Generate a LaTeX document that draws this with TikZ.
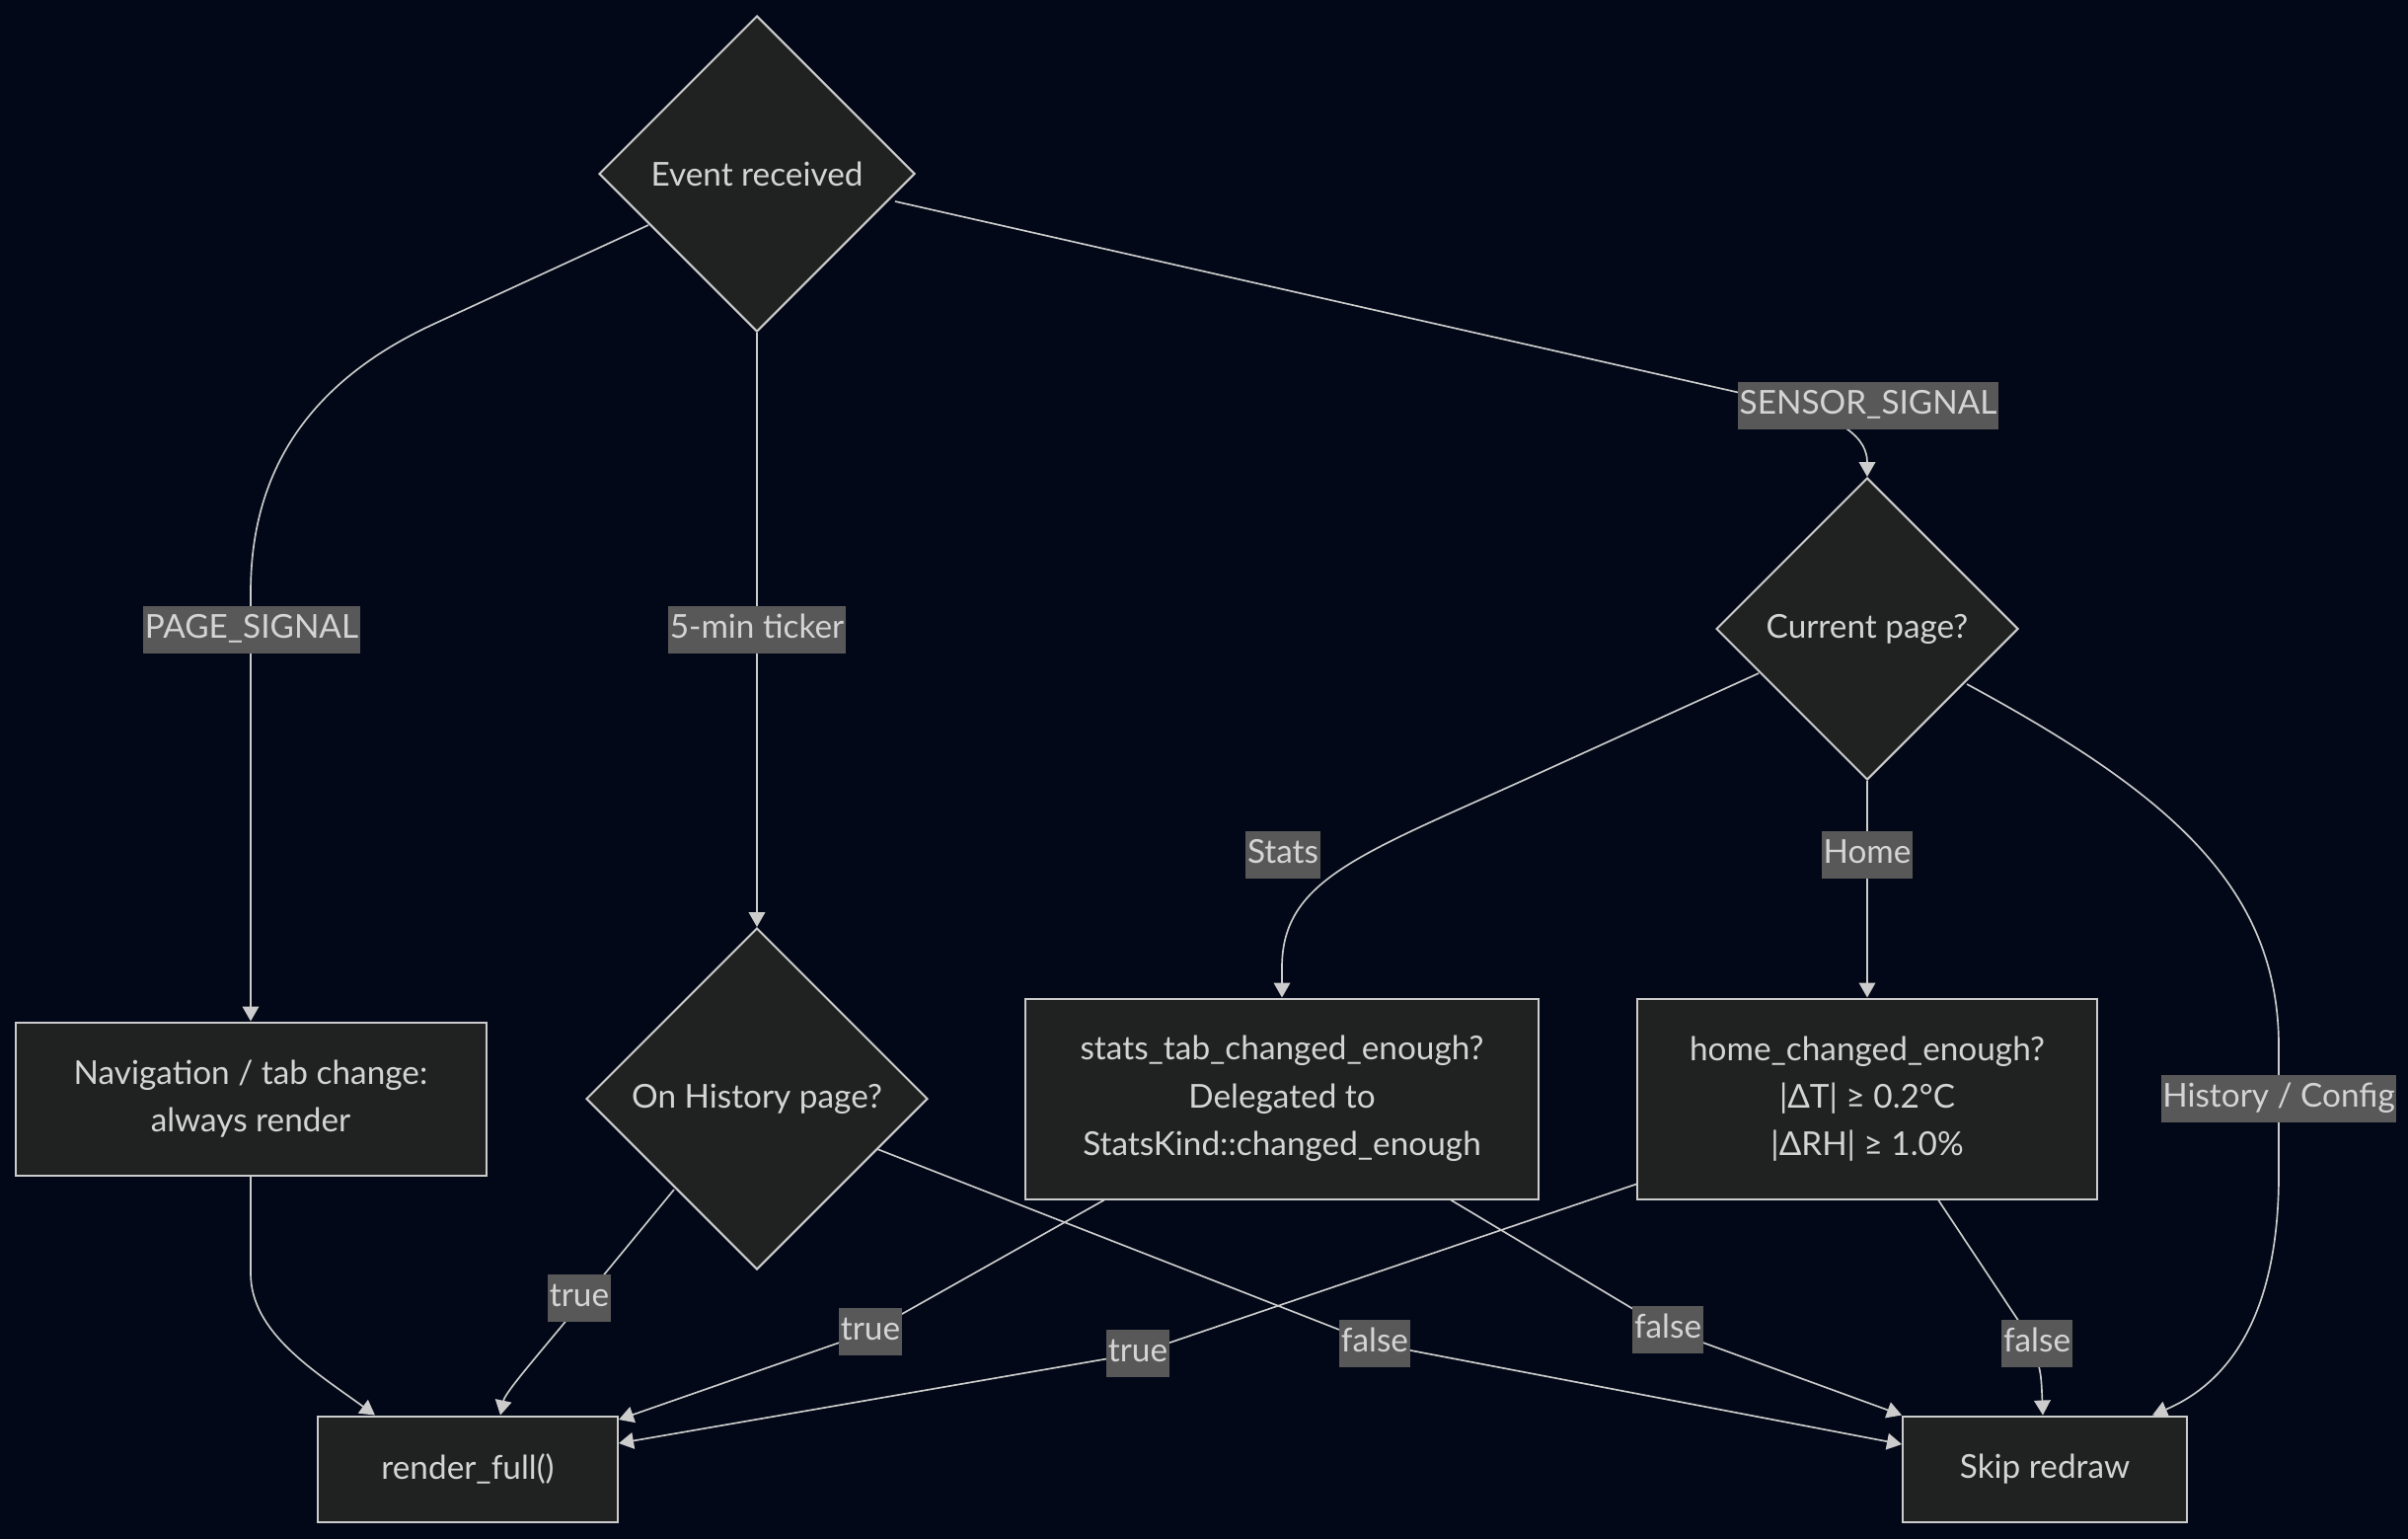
\documentclass[tikz,border=0pt]{standalone}
\usepackage{fontspec}
\setmainfont{Lato}
\usetikzlibrary{shapes.geometric,arrows.meta,calc}
\definecolor{bgc}{RGB}{2,8,23}
\definecolor{nodefill}{RGB}{32,33,33}
\definecolor{strokec}{RGB}{204,204,204}
\definecolor{lblbg}{RGB}{88,88,88}
\definecolor{txtc}{RGB}{212,212,212}
\begin{document}
\begin{tikzpicture}[x=0.3pt,y=-0.3pt,
  box/.style={draw=strokec,fill=nodefill,line width=0.6pt,inner sep=0pt,text=txtc,
    font=\fontsize{10}{14.5}\selectfont,align=center},
  dec/.style={diamond,aspect=1,draw=strokec,fill=nodefill,line width=0.6pt,inner sep=0pt,
    text=txtc,font=\fontsize{10}{12}\selectfont},
  lbl/.style={fill=lblbg,text=txtc,font=\fontsize{10}{12}\selectfont,inner xsep=0.5pt,
    inner ysep=2.3pt,text height=7.5pt,text depth=2.2pt},
  conn/.style={draw=strokec,line width=0.5pt,-{Triangle[length=4.5pt,width=5pt]}}]
\fill[bgc] (0,0) rectangle (2440,1559);
\useasboundingbox (0,0) rectangle (2440,1559);

% nodes
\node[dec,minimum width=96pt,minimum height=96pt] (ev) at (767,176) {Event received};
\node[dec,minimum width=91.8pt,minimum height=91.8pt] (cur) at (1892,637) {Current page?};
\node[dec,minimum width=103.8pt,minimum height=103.8pt] (hist) at (767,1113) {On History page?};
\node[box,minimum width=143.1pt,minimum height=46.5pt] (nav) at (254,1113) {Navigation / tab change:\\always render};
\node[box,minimum width=156pt,minimum height=60.9pt] (stats) at (1299,1113) {stats\_tab\_changed\_enough?\\Delegated to\\StatsKind::changed\_enough};
\node[box,minimum width=139.8pt,minimum height=60.9pt] (home) at (1892,1113) {home\_changed\_enough?\\|ΔT| ≥ 0.2°C\\|ΔRH| ≥ 1.0\%};
\node[box,minimum width=91.2pt,minimum height=32.1pt] (render) at (474,1488) {render\_full()};
\node[box,minimum width=86.4pt,minimum height=32.1pt] (skip) at (2072,1488) {Skip redraw};

% connectors
\draw[conn] ($(ev)+(-110,52)$) -- (440,328) .. controls (310,388) and (254,480) .. (254,600) -- (nav.north);
\draw[conn] (ev.south) -- (hist.north);
\draw[conn] ($(ev)+(140,28)$) -- (1790,404) .. controls (1870,422) and (1892,445) .. (cur.north);
\draw[conn] ($(cur)+(-110,45)$) -- (1560,783) .. controls (1380,865) and (1299,890) .. (1299,980) -- (stats.north);
\draw[conn] (cur.south) -- (home.north);
\draw[conn] ($(cur)+(101,56)$) .. controls (2200,805) and (2309,900) .. (2309,1060) -- (2309,1190) .. controls (2309,1330) and (2260,1400) .. ($(skip.north)+(109,0)$);
\draw[conn] (nav.south) -- (254,1290) .. controls (254,1350) and (320,1390) .. ($(render.north)+(-94,0)$);
\draw[conn] ($(hist)+(-84,92)$) -- (590,1318) .. controls (545,1373) and (512,1410) .. ($(render.north)+(33,0)$);
\draw[conn] ($(hist)+(122,51)$) -- (1393,1361) -- ($(skip.west)+(0,-25)$);
\draw[conn] ($(stats.south)+(-180,0)$) -- (882,1349) -- ($(render.east)+(0,-50)$);
\draw[conn] ($(stats.south)+(171,0)$) -- (1690,1347) -- (skip.north west);
\draw[conn] ($(home.south west)+(0,-16)$) -- (1153,1371) -- ($(render.east)+(0,-26)$);
\draw[conn] ($(home.south)+(72,0)$) -- (2050,1345) .. controls (2068,1385) .. ($(skip.north)+(-2,0)$);

% edge labels
\node[lbl] (lpage) at (255,638) {PAGE\_SIGNAL};
\node[lbl] (ltick) at (767,638) {5-min ticker};
\node[lbl] (lsens) at (1893,411) {SENSOR\_SIGNAL};
\node[lbl] (lstats) at (1300,866) {Stats};
\node[lbl] (lhome) at (1892,866) {Home};
\node[lbl] (lhist) at (2309,1113) {History / Config};
\node[lbl] (lt1) at (587,1315) {true};
\node[lbl] (lt2) at (882,1349) {true};
\node[lbl] (lt3) at (1153,1371) {true};
\node[lbl] (lf1) at (1393,1361) {false};
\node[lbl] (lf2) at (1690,1347) {false};
\node[lbl] (lf3) at (2064,1361) {false};
\end{tikzpicture}
\end{document}
